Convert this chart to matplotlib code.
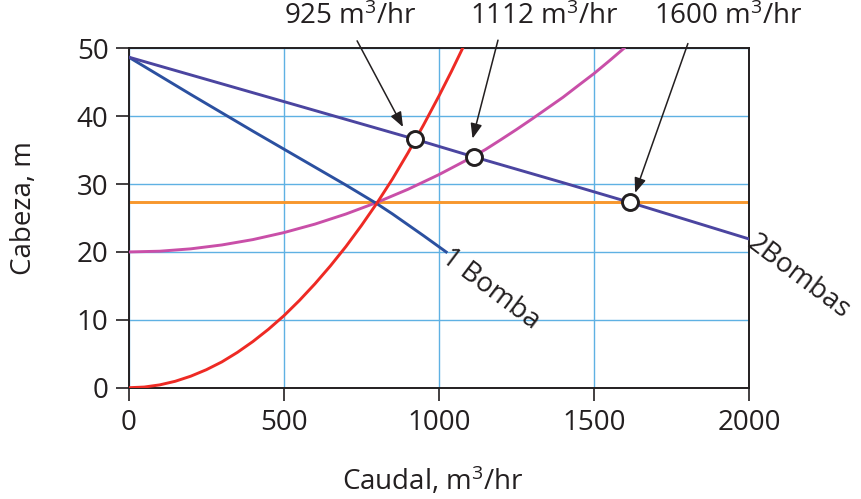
import matplotlib
matplotlib.use("Agg")
import matplotlib.pyplot as plt

plt.rcParams['font.family'] = ['Open Sans', 'DejaVu Sans']
plt.rcParams['mathtext.fontset'] = 'custom'
plt.rcParams['mathtext.rm'] = 'Open Sans'
plt.rcParams['mathtext.it'] = 'Open Sans'

# --- data ---
bomba1_x = [0, 200, 400, 600, 700, 800, 850, 900, 950, 1023]
bomba1_y = [48.7, 43.2, 37.8, 32.5, 29.85, 27.1, 25.6, 24.0, 22.4, 20.0]

bombas2_x = [0, 500, 923, 1113, 1400, 1615, 2000]
bombas2_y = [48.7, 42.15, 36.6, 34.0, 30.2, 27.3, 21.9]

sys_red_x = [0, 50, 100, 150, 200, 250, 300, 350, 400, 450, 500, 550, 600, 650,
             700, 750, 800, 850, 900, 950, 1000, 1040, 1076]
sys_red_y = [0, 0.1, 0.42, 0.95, 1.7, 2.65, 3.8, 5.2, 6.8, 8.6, 10.6, 12.85, 15.3, 17.95,
             20.8, 23.9, 27.2, 30.75, 34.6, 38.7, 43.0, 46.6, 50.0]

sys_mag_x = [0, 100, 200, 300, 400, 500, 600, 700, 800, 900, 1000, 1100, 1150, 1200,
             1250, 1300, 1350, 1400, 1450, 1500, 1550, 1596]
sys_mag_y = [20.0, 20.11, 20.46, 21.03, 21.82, 22.85, 24.1, 25.59, 27.3, 29.23, 31.4, 33.8,
             35.1, 36.56, 38.05, 39.6, 41.2, 42.8, 44.56, 46.3, 48.2, 50.0]

level_x = [0, 2000]
level_y = [27.3, 27.3]

op_x = [923, 1113, 1615]
op_y = [36.6, 34.0, 27.3]
op_labels = ['925 m$^3$/hr', '1112 m$^3$/hr', '1600 m$^3$/hr']

x_ticks = [0, 500, 1000, 1500, 2000]
y_ticks = [0, 10, 20, 30, 40, 50]

# annotation geometry (data coords)
arrow_tip = [(884, 38.4), (1108, 36.7), (1632, 28.7)]
arrow_start = [(736, 51.1), (1190, 51.2), (1802, 50.7)]
label_pos = [(713, 54.7), (1339, 54.7), (1931, 54.7)]

fig = plt.figure(figsize=(8.61, 4.99), dpi=100)
ax = fig.add_axes([0.1495, 0.2230, 0.7208, 0.6802])

fs = 20
grid_c = '#5fb1e3'
ax.set_xlim(0, 2000)
ax.set_ylim(0, 50)
ax.set_xticks(x_ticks)
ax.set_yticks(y_ticks)
ax.grid(True, color=grid_c, lw=1.0)
ax.set_axisbelow(True)
for s in ax.spines.values():
    s.set_color('#231f20')
    s.set_linewidth(1.4)
ax.tick_params(axis='both', direction='out', length=9.5, width=1.2,
               color='#231f20', labelsize=fs, labelcolor='#231f20')
ax.tick_params(axis='x', pad=6)
ax.tick_params(axis='y', pad=5)

lw = 2.1
ax.plot(level_x, level_y, color='#f7972d', lw=lw, zorder=2)
ax.plot(sys_mag_x, sys_mag_y, color='#c94fa8', lw=lw, zorder=3)
ax.plot(bomba1_x, bomba1_y, color='#2b50a0', lw=lw, zorder=3)
ax.plot(sys_red_x, sys_red_y, color='#ee2a24', lw=lw, zorder=4)
ax.plot(bombas2_x, bombas2_y, color='#4b45a0', lw=lw, zorder=4)
ax.plot(op_x, op_y, linestyle='none', marker='o', ms=11.5, mfc='white',
        mec='#231f20', mew=2.1, zorder=6, clip_on=False)

for lab, tip, st, pos in zip(op_labels, arrow_tip, arrow_start, label_pos):
    ax.annotate('', xy=tip, xytext=st, xycoords='data', textcoords='data',
                annotation_clip=False,
                arrowprops=dict(arrowstyle='-|>,head_length=0.9,head_width=0.35',
                                color='#231f20', lw=1.1, shrinkA=0, shrinkB=0),
                zorder=7)
    ax.text(pos[0], pos[1], lab, ha='center', va='center', fontsize=fs,
            color='#231f20', clip_on=False)

ax.text(1045, 21.3, '1 Bomba', rotation=-37, rotation_mode='anchor',
        ha='left', va='top', fontsize=fs, color='#231f20', clip_on=False)
ax.text(2028, 23.3, '2Bombas', rotation=-37, rotation_mode='anchor',
        ha='left', va='top', fontsize=fs, color='#231f20', clip_on=False)

ax.set_xlabel('Caudal, m$^3$/hr', fontsize=fs, color='#231f20')
ax.set_ylabel('Cabeza, m', fontsize=fs, color='#231f20')
ax.xaxis.set_label_coords(0.49, -0.225)
ax.yaxis.set_label_coords(-0.146, 0.53)

fig.savefig('out.png', dpi=100)
